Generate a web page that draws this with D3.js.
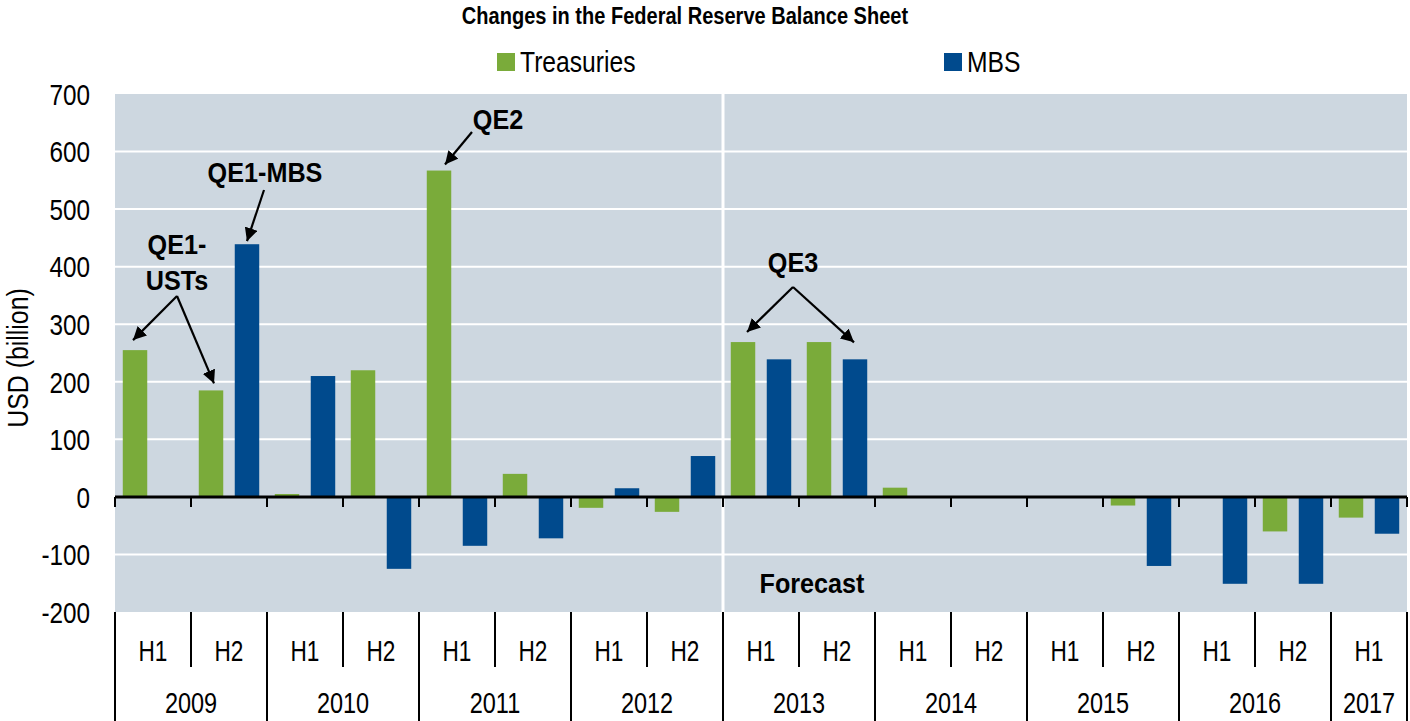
<!DOCTYPE html>
<html>
<head>
<meta charset="utf-8">
<script src="https://cdn.jsdelivr.net/npm/d3@7.9.0/dist/d3.min.js"></script>
<style>
  body { margin: 0; background: #fff; }
  svg text { font-family: 'Liberation Sans', Arial, sans-serif; fill: #000; }
</style>
</head>
<body>
<svg width="1410" height="721"></svg>
<script>
const periods = ['2009H1','2009H2','2010H1','2010H2','2011H1','2011H2','2012H1','2012H2',
  '2013H1','2013H2','2014H1','2014H2','2015H1','2015H2','2016H1','2016H2','2017H1'];
const halves = ['H1','H2','H1','H2','H1','H2','H1','H2','H1','H2','H1','H2','H1','H2','H1','H2','H1'];
const years = ['2009','2010','2011','2012','2013','2014','2015','2016','2017'];
const treasuries = [255, 185, 5, 220, 567, 40, -19, -26, 269, 269, 16, 0, 0, -15, 0, -60, -36];
const mbs = [0, 439, 210, -125, -85, -72, 15, 71, 239, 239, 0, 0, 0, -120, -151, -151, -64];
const seriesNames = ['Treasuries', 'MBS'];
const colors = ['#7aab3a', '#004a8d'];
const yTicks = [-200, -100, 0, 100, 200, 300, 400, 500, 600, 700];
const forecastStart = '2013H1';

const svg = d3.select('svg');
const plotL = 115, plotR = 1407, plotT = 94, plotB = 612;
// the source font is a condensed sans; squeeze the regular one horizontally
const NARROW = 0.81;
const at = (px, py, s) => `translate(${px},${py}) scale(${s},1)`;

const x = d3.scaleBand().domain(periods).range([plotL, plotR]).padding(0);
const xs = d3.scaleBand().domain(seriesNames).range([0, x.bandwidth()])
  .paddingInner(0.32).paddingOuter(0.216);
const y = d3.scaleLinear().domain([-200, 700]).range([plotB, plotT]);

// plot background
svg.append('rect')
  .attr('x', plotL).attr('y', plotT)
  .attr('width', plotR - plotL).attr('height', plotB - plotT)
  .attr('fill', '#cdd7e0');

// white gridlines
svg.append('g').selectAll('line')
  .data(yTicks.filter(d => d !== 0 && d !== -200 && d !== 700))
  .join('line')
  .attr('x1', plotL).attr('x2', plotR)
  .attr('y1', d => y(d)).attr('y2', d => y(d))
  .attr('stroke', '#fff').attr('stroke-width', 2);

// forecast separator
svg.append('line')
  .attr('x1', x(forecastStart)).attr('x2', x(forecastStart))
  .attr('y1', plotT).attr('y2', plotB)
  .attr('stroke', '#fff').attr('stroke-width', 3);

// bars
const rows = periods.map((p, i) => ({ period: p, values: [treasuries[i], mbs[i]] }));
const groups = svg.append('g').selectAll('g')
  .data(rows)
  .join('g')
  .attr('transform', d => `translate(${x(d.period)},0)`);

groups.selectAll('rect')
  .data(d => d.values.map((v, k) => ({ key: seriesNames[k], value: v, k })))
  .join('rect')
  .attr('x', d => xs(d.key))
  .attr('width', xs.bandwidth())
  .attr('y', d => y(Math.max(0, d.value)))
  .attr('height', d => Math.abs(y(d.value) - y(0)))
  .attr('fill', d => colors[d.k]);

// zero axis with ticks
const boundaries = periods.map(p => x(p)).concat([plotR]);
svg.append('line')
  .attr('x1', plotL).attr('x2', plotR)
  .attr('y1', y(0)).attr('y2', y(0))
  .attr('stroke', '#000').attr('stroke-width', 3);
svg.append('g').selectAll('line')
  .data(boundaries)
  .join('line')
  .attr('x1', d => d).attr('x2', d => d)
  .attr('y1', y(0)).attr('y2', y(0) + 10)
  .attr('stroke', '#000').attr('stroke-width', 2);

// y axis labels
svg.append('g').selectAll('text')
  .data(yTicks)
  .join('text')
  .attr('transform', d => at(90, y(d), NARROW))
  .attr('dy', '0.36em')
  .attr('text-anchor', 'end')
  .attr('font-size', 30)
  .text(d => d);

svg.append('text')
  .attr('transform', `translate(28,358) rotate(-90) scale(0.83,1)`)
  .attr('text-anchor', 'middle')
  .attr('font-size', 30)
  .text('USD (billion)');

// multi-level category axis
const yearStarts = boundaries.filter((b, i) => i === 0 || i === periods.length || halves[i] === 'H1');
svg.append('g').selectAll('line')
  .data(boundaries)
  .join('line')
  .attr('x1', d => d).attr('x2', d => d)
  .attr('y1', plotB)
  .attr('y2', d => yearStarts.includes(d) ? 721 : 667)
  .attr('stroke', '#000').attr('stroke-width', 2);

svg.append('g').selectAll('text')
  .data(periods)
  .join('text')
  .attr('transform', d => at(x(d) + x.bandwidth() / 2, 661, 0.78))
  .attr('text-anchor', 'middle')
  .attr('font-size', 29)
  .text((d, i) => halves[i]);

svg.append('g').selectAll('text')
  .data(years)
  .join('text')
  .attr('transform', d => {
    const ps = periods.filter(p => p.startsWith(d));
    return at((x(ps[0]) + x(ps[ps.length - 1]) + x.bandwidth()) / 2, 713, NARROW);
  })
  .attr('text-anchor', 'middle')
  .attr('font-size', 29)
  .text(d => d);

// title and legend
svg.append('text')
  .attr('transform', at(685, 24, 0.835))
  .attr('text-anchor', 'middle')
  .attr('font-size', 24).attr('font-weight', 'bold')
  .text('Changes in the Federal Reserve Balance Sheet');

const legendX = [497, 944];
const legend = svg.append('g').selectAll('g')
  .data(seriesNames)
  .join('g')
  .attr('transform', (d, i) => `translate(${legendX[i]},53)`);
legend.append('rect').attr('width', 18).attr('height', 18).attr('fill', (d, i) => colors[i]);
legend.append('text').attr('transform', at(23, 19, 0.85)).attr('font-size', 29).text(d => d);

// annotations
svg.append('defs').append('marker')
  .attr('id', 'arrow')
  .attr('viewBox', '0 0 10 10')
  .attr('refX', 10).attr('refY', 5)
  .attr('markerWidth', 6).attr('markerHeight', 6)
  .attr('markerUnits', 'strokeWidth')
  .attr('orient', 'auto')
  .append('path').attr('d', 'M0,0 L10,5 L0,10 z').attr('fill', '#000');

const barTip = (period, k, dx, dy) => {
  const i = periods.indexOf(period);
  const v = k === 0 ? treasuries[i] : mbs[i];
  return [x(period) + xs(seriesNames[k]) + xs.bandwidth() / 2 + dx, y(v) + dy];
};

const notes = [
  { lines: ['QE2'], x: 498, y: 129, arrows: [{ from: [472, 132], to: barTip('2011H1', 0, 6, -6) }] },
  { lines: ['QE1-MBS'], x: 265, y: 182, arrows: [{ from: [264, 190], to: barTip('2009H2', 1, 0, -3) }] },
  { lines: ['QE1-', 'USTs'], x: 177, y: 254, arrows: [
      { from: [177, 296], to: barTip('2009H1', 0, -2, -10) },
      { from: [177, 296], to: barTip('2009H2', 0, 3, -7) }] },
  { lines: ['QE3'], x: 793, y: 272, arrows: [
      { from: [793, 287], to: barTip('2013H1', 0, 4, -10) },
      { from: [793, 287], to: barTip('2013H2', 1, -1, -17) }] },
  { lines: ['Forecast'], x: 812, y: 593, arrows: [] }
];

notes.forEach(n => {
  svg.append('text')
    .attr('transform', at(n.x, n.y, 0.9))
    .attr('text-anchor', 'middle')
    .attr('font-size', 28).attr('font-weight', 'bold')
    .selectAll('tspan')
    .data(n.lines)
    .join('tspan')
    .attr('x', 0)
    .attr('dy', (d, i) => i === 0 ? 0 : 36)
    .text(d => d);
  n.arrows.forEach(a => {
    svg.append('line')
      .attr('x1', a.from[0]).attr('y1', a.from[1])
      .attr('x2', a.to[0]).attr('y2', a.to[1])
      .attr('stroke', '#000').attr('stroke-width', 2.2)
      .attr('marker-end', 'url(#arrow)');
  });
});
</script>
</body>
</html>
